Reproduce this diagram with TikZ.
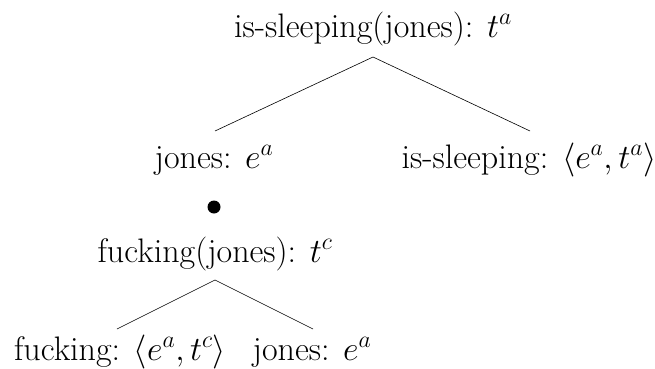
\RequirePackage{fix-cm}
\documentclass[tikz,border=0pt]{standalone}
\begin{document}
\begin{tikzpicture}[x=1pt,y=1pt,
  lbl/.style={anchor=base, inner sep=0pt, font=\fontsize{34}{40}\selectfont},
  edge/.style={line width=0.6pt}]
\useasboundingbox (0,0) rectangle (655,368);
\node[lbl] (root) at (373,331) {is-sleeping(jones): $t^a$};
\node[lbl] (jonesA) at (214,200) {jones: $e^a$};
\node[lbl] (sleep) at (529,200) {is-sleeping: $\langle e^a, t^a\rangle$};
\node[circle, fill=black, inner sep=0pt, minimum size=13pt] (dot) at (214,161) {};
\node[lbl] (fj) at (215,106) {fucking(jones): $t^c$};
\node[lbl] (fuck) at (120,8) {fucking: $\langle e^a, t^c\rangle$};
\node[lbl] (jonesB) at (312,8) {jones: $e^a$};
\draw[edge] ([yshift=-20pt]root.base) -- ([xshift=1pt,yshift=37pt]jonesA.base);
\draw[edge] ([yshift=-20pt]root.base) -- ([xshift=1pt,yshift=37pt]sleep.base);
\draw[edge] ([yshift=-18pt]fj.base) -- ([xshift=-3pt,yshift=31pt]fuck.base);
\draw[edge] ([yshift=-18pt]fj.base) -- ([xshift=1pt,yshift=31pt]jonesB.base);
\end{tikzpicture}
\end{document}
